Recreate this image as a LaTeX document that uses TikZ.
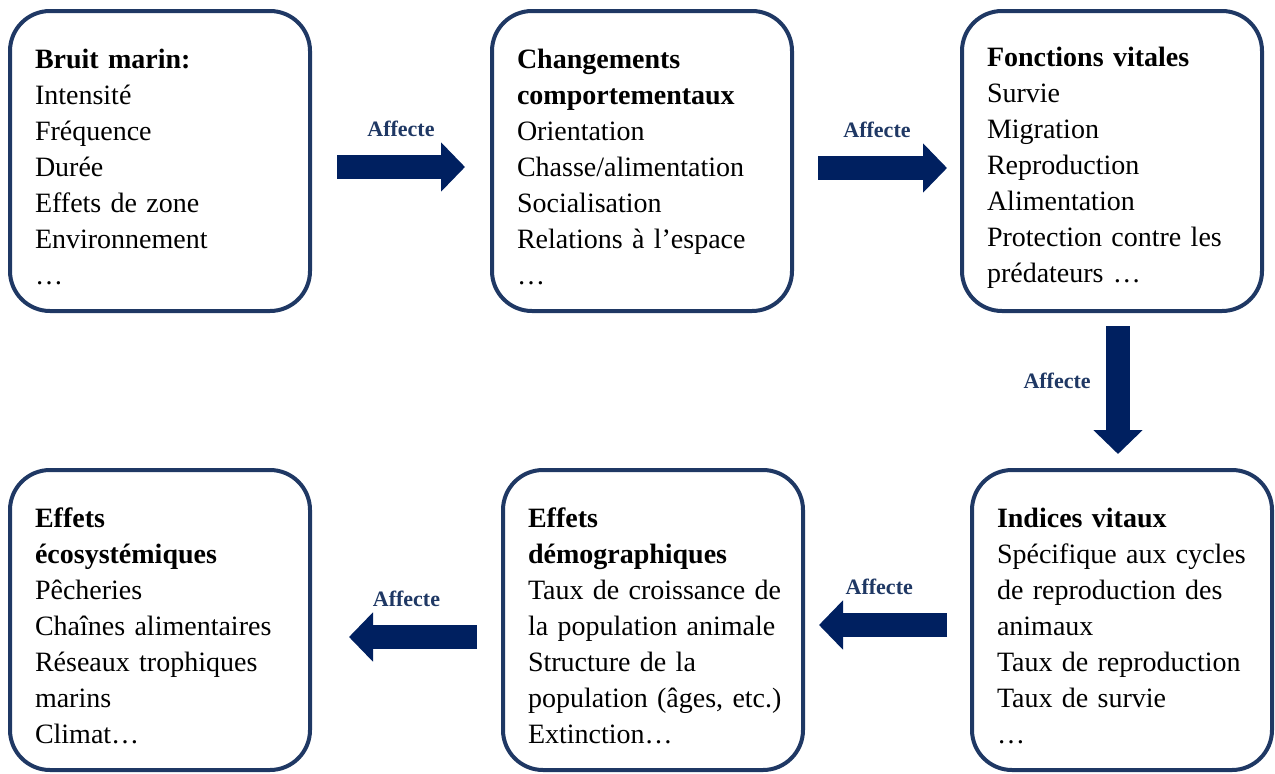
\documentclass[tikz,border=0pt]{standalone}
\usepackage{fontspec}
\setmainfont{Liberation Serif}
\usetikzlibrary{arrows.meta, positioning}

\definecolor{boxblue}{HTML}{1F3864}
\definecolor{arrowblue}{HTML}{002060}

\begin{document}
\begin{tikzpicture}[x=1pt, y=-1pt,
    box/.style={draw=boxblue, line width=4pt, rounded corners=40pt,
        minimum width=300pt, minimum height=300pt, text width=250pt,
        inner xsep=25pt, align=left, font=\fontsize{28}{36}\selectfont,
        execute at begin node={\rule{0pt}{32pt}}},
    affecte/.style={draw=arrowblue, line width=24pt,
        -{Triangle[width=48pt, length=24pt]}},
    lbl/.style={text=boxblue, font=\bfseries\fontsize{22}{24}\selectfont}]

        \useasboundingbox (0,0) rectangle (1275,774);

        % Draw the top row of boxes

        \node[box] (bruit) at (160,161) {\textbf{Bruit marin:}\\ Intensité\\ Fréquence\\ Durée\\ Effets de zone\\ Environnement\\ …};
        \node[box] (comport) at (642,161) {\textbf{Changements}\\ \textbf{comportementaux}\\ Orientation\\ Chasse/alimentation\\ Socialisation\\ Relations à l’espace\\ …};
        \node[box] (fonctions) at (1112,161) {\textbf{Fonctions vitales}\\ Survie\\ Migration\\ Reproduction\\ Alimentation\\ \mbox{Protection contre les}\\ prédateurs …};

        % Draw the bottom row of boxes

        \node[box] (indices) at (1122,620) {\textbf{Indices vitaux}\\ \mbox{Spécifique aux cycles}\\ de reproduction des\\ animaux\\ \mbox{Taux de reproduction}\\ Taux de survie\\ …};
        \node[box] (demo) at (653,620) {\textbf{Effets}\\ \textbf{démographiques}\\ \mbox{Taux de croissance de}\\ \mbox{la population animale}\\ Structure de la\\ \mbox{population (âges, etc.)}\\ Extinction…};
        \node[box] (eco) at (160,620) {\textbf{Effets}\\ \textbf{écosystémiques}\\ Pêcheries\\ \mbox{Chaînes alimentaires}\\ Réseaux trophiques\\ marins\\ Climat…};

        % Block arrows between the boxes

        \draw[affecte, shorten <=25pt, shorten >=25pt] ([yshift=-6pt]bruit.east) -- ([yshift=-6pt]comport.west) node[lbl, midway, above=15pt] {Affecte};
        \draw[affecte, shorten <=24pt, shorten >=13pt] ([yshift=-7pt]comport.east) -- ([yshift=-7pt]fonctions.west) node[lbl, midway, above=15pt] {Affecte};
        \draw[affecte, shorten <=13pt, shorten >=14pt] ([xshift=6pt]fonctions.south) -- ([xshift=-4pt]indices.north) node[lbl, pos=0.44, left=12pt] {Affecte};
        \draw[affecte, shorten <=23pt, shorten >=14pt] ([yshift=-5pt]indices.west) -- ([yshift=-5pt]demo.east) node[lbl, pos=0.55, above=15pt] {Affecte};
        \draw[affecte, shorten <=24pt, shorten >=37pt] ([yshift=-17pt]demo.west) -- ([yshift=-17pt]eco.east) node[lbl, midway, above=15pt] {Affecte};
    \end{tikzpicture}
\end{document}
